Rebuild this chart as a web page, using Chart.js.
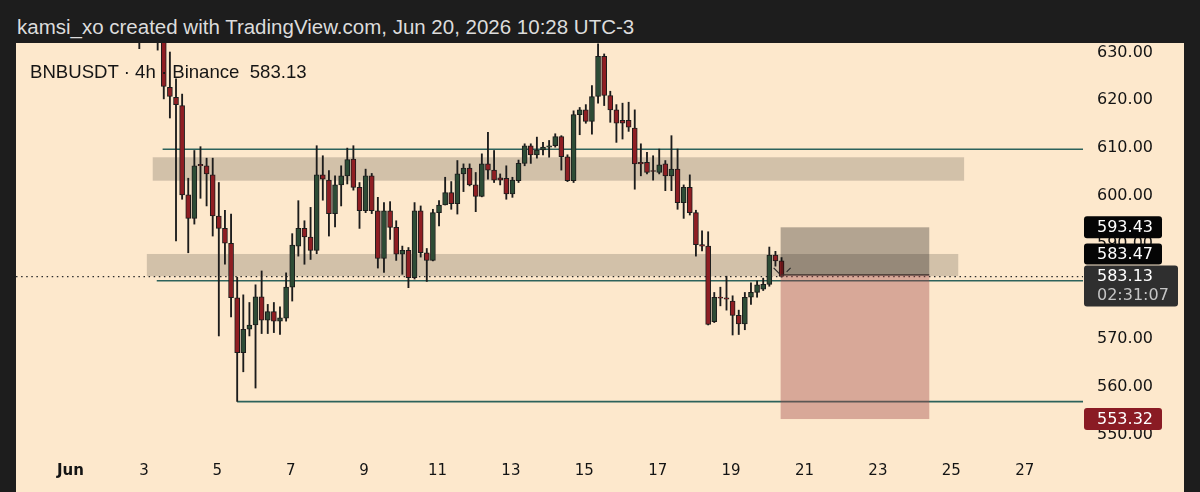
<!DOCTYPE html>
<html><head><meta charset="utf-8">
<script src="https://cdn.jsdelivr.net/npm/chart.js@4.4.1/dist/chart.umd.min.js"></script>
<style>
html,body{margin:0;padding:0;background:#1d1d1d;width:1200px;height:492px;overflow:hidden}
#hdr{position:absolute;left:17px;top:16px;font:20.5px "Liberation Sans",Arial,sans-serif;line-height:22px;color:#dcdcdc;white-space:pre}
#wrap{position:absolute;left:16px;top:43px;width:1168px;height:449px;background:#fde8cc}
#ttl{position:absolute;left:14px;top:19px;font:18.6px "Liberation Sans",Arial,sans-serif;line-height:20px;color:#151515;white-space:pre;z-index:2}
canvas{position:absolute;left:0;top:0}
</style></head>
<body>
<div id="hdr">kamsi_xo created with TradingView.com, Jun 20, 2026 10:28 UTC-3</div>
<div id="wrap"><canvas id="c" width="1168" height="449"></canvas><div id="ttl">BNBUSDT · 4h · Binance  583.13</div></div>
<script>
// ---- data (4h candles, BNBUSDT) ----
const firstCandleDay = 1.875;      // days since Jun 1 00:00 (UTC-3) of first candle
const candleStepDays = 4 / 24;
const opens  = [640,636,638.5,635,637,622.7,620.6,618.9,600.2,595.3,606.6,606.3,604.4,595.8,593.2,590.1,578.7,567.2,572.1,573,578.9,574,575.8,573.8,574.4,580.9,589.5,593.2,591.4,588.6,604.4,603.3,596.3,602.3,604.2,607.7,601.8,596.9,604.2,596.9,586.9,596.9,593.4,587.8,588.6,582.9,596.9,588.1,586.5,596.5,598.1,600.7,598.4,604.6,605.8,602.3,599.9,606.7,605.4,603.8,603.7,600.4,603.2,606.8,610.5,608.6,609.6,610.2,610.5,612.4,608.2,603.2,617,618,615.6,620.8,629.2,621,618,615.8,615.8,614.2,607,607,605.2,604.9,606.7,604.2,605.6,598.6,601.8,596.5,589.8,589.5,573.7,578.8,578.7,578,575,573.2,578.8,579.8,580.5,581.5,587.6,586.4];
const highs  = [645,642,641,640,638.5,630.1,624.5,621.3,603.7,609.5,610.3,607.9,607.9,602.8,597,596.2,583,579.3,577.7,581.4,584.3,577.3,577.7,576.8,583.9,592.1,599,594.8,597.6,610.5,608.4,605.3,604.2,606.3,610,610.5,602.8,605.6,604.7,599.7,598.6,598.8,594.8,589.5,589.2,598.6,597.9,589,597.2,599,603.9,603,607.4,606.7,606.7,604.9,608.8,613.3,609.5,604.6,606.3,603.9,607.5,610.9,610.9,612.3,611.2,611.6,613,612.6,608.6,617.8,618.5,619.1,623.1,631.8,629.7,621.9,619.1,619.4,619.6,618,610.9,609.1,608.4,609.8,607.4,612.6,609.8,602.3,604.4,597,592.7,592.5,579.8,580.9,583.2,579.1,576.1,579.8,581.8,582.2,582.8,589.3,588.4,587.1];
const lows   = [630.8,633,633.5,630.5,620.3,616.3,590.6,599.3,588.1,594.1,599.5,597.9,591.6,570.7,585.7,574.7,557,563.2,570.7,559.8,571.2,571.2,571.4,571,573.8,578,587.4,585.7,586.7,587.9,599.1,591.6,593.5,597.9,602.5,601.2,593.2,596.5,596.3,584.9,584,590.9,586.5,583.6,580.8,582.6,587.2,582.1,586.4,593.7,598.1,597.2,596.2,600.9,602.1,596.7,599.8,603.5,602.8,602.3,599.3,599.7,602.8,606.3,606.8,607.9,608.6,608.1,610.2,605.4,603,602.8,612.8,615.2,612.9,619.4,618.9,615.4,611.2,611.9,613.5,601.4,604.2,604.6,603.3,604.6,601.1,601.1,597.2,595.3,596,587.4,588.5,573,573.5,577,576.1,570.9,571,572,577.3,578.8,580.2,581.1,585.3,583];
const closes = [636,638.5,635,637,622.9,620.8,619.1,600.2,595.3,606.3,606.3,604.6,595.8,593.2,590.1,578.7,567.2,572.1,573,578.9,574,575.8,573.8,574.5,580.9,589.7,593.2,591.4,588.6,604.4,603.5,596.3,602.3,604.2,607.6,601.8,596.9,604.2,596.9,586.9,596.9,593.4,587.8,588.6,582.9,596.9,588.1,586.5,596.5,598.1,600.7,598.4,604.6,605.8,602.3,599.9,606.7,605.4,603.3,603.3,600.4,603.3,606.8,610.5,608.6,609.6,610.2,610.5,612.4,608.2,603.2,617,618,615.6,620.8,629.2,621,618,615.2,615.2,614.4,606.7,606.7,604.9,605.1,606.5,604.2,605.6,598.6,601.8,596.5,589.8,589.5,573.1,578.8,578.6,578.4,575,573.2,578.8,579.8,581.4,581.5,587.6,586.4,583.13];

// axis ticks
const xTickValues = [0,2,4,6,8,10,12,14,16,18,20,22,24,26];
const xTickLabels = ["Jun","3","5","7","9","11","13","15","17","19","21","23","25","27"];
const yTickValues = [550,560,570,580,590,600,610,620,630];

// drawings (time in days since Jun 1, price)
const zones = [[2.24,24.35,608.08,603.18],[2.08,24.19,587.85,583.2]];
const hLines = [[2.51,609.75],[2.35,582.26],[4.54,556.95]];
const position = {t0:19.35, t1:23.40, stop:593.43, entry:583.47, target:553.32};
const lastPrice = 583.13;
const countdown = "02:31:07";

const xMin = -1.485, xMax = 27.589, yMin = 546.42, yMax = 631.99;

const times = opens.map((_, i) => firstCandleDay + i * candleStepDays);
const GREEN = '#2d4c36', RED = '#8f1e23', INK = '#1c1c1c';
const bodyColors = opens.map((o, i) => closes[i] >= o ? GREEN : RED);

const drawings = {
  id: 'drawings',
  beforeDatasetsDraw(chart) {
    const {ctx, chartArea: a, scales: {x, y}} = chart;
    ctx.save();
    ctx.beginPath(); ctx.rect(a.left, a.top, a.width, a.height); ctx.clip();
    ctx.fillStyle = 'rgba(0,0,0,0.17)';
    zones.forEach(([t0, t1, p0, p1]) => {
      const X0 = x.getPixelForValue(t0), X1 = x.getPixelForValue(t1);
      const Y0 = y.getPixelForValue(p0), Y1 = y.getPixelForValue(p1);
      ctx.fillRect(X0, Y0, X1 - X0, Y1 - Y0);
    });
    ctx.strokeStyle = '#2d625b'; ctx.lineWidth = 1.6;
    hLines.forEach(([t0, p]) => {
      const Y = y.getPixelForValue(p);
      ctx.beginPath(); ctx.moveTo(x.getPixelForValue(t0), Y); ctx.lineTo(a.right, Y); ctx.stroke();
    });
    // last price dotted line
    const YL = y.getPixelForValue(lastPrice);
    ctx.strokeStyle = '#2a2a2a'; ctx.lineWidth = 1.3; ctx.setLineDash([1.5, 3.6]);
    ctx.beginPath(); ctx.moveTo(a.left, YL); ctx.lineTo(a.right, YL); ctx.stroke();
    ctx.restore();
  },
  afterDatasetsDraw(chart) {
    const {ctx, chartArea: a, scales: {x, y}} = chart;
    ctx.save();
    const X0 = x.getPixelForValue(position.t0), X1 = x.getPixelForValue(position.t1);
    const Ys = y.getPixelForValue(position.stop), Ye = y.getPixelForValue(position.entry), Yt = y.getPixelForValue(position.target);
    ctx.fillStyle = 'rgba(0,0,0,0.29)';
    ctx.fillRect(X0, Ys, X1 - X0, Ye - Ys);
    ctx.fillStyle = 'rgba(160,72,74,0.40)';
    ctx.fillRect(X0, Ye, X1 - X0, Yt - Ye);
    ctx.strokeStyle = '#3b2e2a'; ctx.lineWidth = 1.2;
    ctx.beginPath(); ctx.moveTo(X0, Ye); ctx.lineTo(X1, Ye); ctx.stroke();
    // small handle strokes
    ctx.strokeStyle = '#2a2a2a'; ctx.lineWidth = 1.2;
    ctx.beginPath(); ctx.moveTo(X0 - 7, Ye - 7); ctx.lineTo(X0 - 1, Ye - 1); ctx.stroke();
    ctx.beginPath(); ctx.moveTo(X0 + 6, Ye - 3); ctx.lineTo(X0 + 10, Ye - 7); ctx.stroke();
    ctx.restore();
  },
  afterDraw(chart) {
    const {ctx, chartArea: a, scales: {y}} = chart;
    const L = a.right + 1, TX = a.right + 14;
    ctx.save();
    ctx.font = '16px "DejaVu Sans"';
    ctx.textBaseline = 'middle'; ctx.textAlign = 'left';
    function box(top, w, h, bg) {
      ctx.fillStyle = bg; ctx.beginPath(); ctx.roundRect(L, top, w, h, 3); ctx.fill();
    }
    const yStop = y.getPixelForValue(position.stop);
    box(yStop - 11, 78, 22, '#050505');
    ctx.fillStyle = '#ffffff'; ctx.fillText(position.stop.toFixed(2), TX, yStop + 0.5);
    const yLast = y.getPixelForValue(lastPrice);
    const gTop = yLast - 11;
    box(gTop - 22, 78, 21, '#050505');
    ctx.fillStyle = '#ffffff'; ctx.fillText(position.entry.toFixed(2), TX, gTop - 11);
    box(gTop, 94, 41, '#2f2f2f');
    ctx.fillStyle = '#ffffff'; ctx.fillText(lastPrice.toFixed(2), TX, yLast + 0.5);
    ctx.fillStyle = '#c4c4c4'; ctx.fillText(countdown, TX, yLast + 19.5);
    const yT = y.getPixelForValue(position.target);
    box(yT - 11, 78, 22, '#8a1b24');
    ctx.fillStyle = '#ffffff'; ctx.fillText(position.target.toFixed(2), TX, yT + 0.5);
    ctx.restore();
  }
};

new Chart(document.getElementById('c'), {
  type: 'bar',
  data: {
    datasets: [
      { label: 'body', order: 0, grouped: false,
        data: times.map((t, i) => ({x: t, y: [opens[i], closes[i]]})),
        backgroundColor: bodyColors, borderColor: INK, borderWidth: 1, borderSkipped: false,
        barThickness: 5, minBarLength: 1 },
      { label: 'wick', order: 1, grouped: false,
        data: times.map((t, i) => ({x: t, y: [lows[i], highs[i]]})),
        backgroundColor: INK, borderWidth: 0, barThickness: 1.2 }
    ]
  },
  options: {
    responsive: false, animation: false,
    layout: {padding: 0},
    plugins: {legend: {display: false}, tooltip: {enabled: false}},
    scales: {
      x: {
        type: 'linear', min: xMin, max: xMax, offset: false,
        grid: {display: false, drawTicks: false}, border: {display: false},
        afterFit(s) { s.height = 40; s.paddingLeft = 0; s.paddingRight = 0; },
        afterBuildTicks(s) { s.ticks = xTickValues.map(v => ({value: v})); },
        ticks: {
          autoSkip: false, maxRotation: 0, padding: 10, color: '#141414',
          font: (c) => ({family: '"DejaVu Sans"', size: 15, weight: c.index === 0 ? 'bold' : 'normal'}),
          callback: (v, i) => xTickLabels[i]
        }
      },
      y: {
        type: 'linear', position: 'right', min: yMin, max: yMax,
        grid: {display: false, drawTicks: false}, border: {display: false},
        afterFit(s) { s.width = 101; s.paddingTop = 0; s.paddingBottom = 0; },
        afterBuildTicks(s) { s.ticks = yTickValues.map(v => ({value: v})); },
        ticks: {padding: 14, color: '#141414', font: {family: '"DejaVu Sans"', size: 16},
          callback: (v) => Number(v).toFixed(2)}
      }
    }
  },
  plugins: [drawings]
});
</script>
</body></html>
